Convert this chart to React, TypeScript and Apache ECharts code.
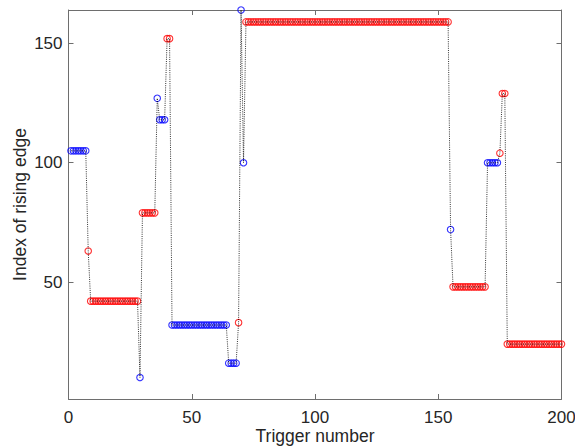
import React, { useEffect, useRef } from "react";
import * as echarts from "echarts";

// Data: runs of constant "index of rising edge"
const runValue = [105, 63, 42, 10, 79, 127, 118, 152, 32, 16, 33, 164, 100, 159, 72, 48, 100, 104, 129, 24];
const runLength = [7, 1, 20, 1, 6, 1, 3, 2, 23, 4, 1, 1, 1, 83, 1, 14, 5, 1, 2, 23];
const runColor = ["b", "r", "r", "b", "r", "b", "b", "r", "b", "b", "r", "b", "b", "r", "b", "r", "b", "r", "r", "r"];

const xTicks = [0, 50, 100, 150, 200];
const yTicks = [50, 100, 150];
const xName = "Trigger number";
const yName = "Index of rising edge";

const FONT = "'Liberation Sans', Arial, Helvetica, sans-serif";
const AXIS_COLOR = "#6e6e6e";

export default function App() {
  const ref = useRef<HTMLDivElement>(null);

  useEffect(() => {
    if (!ref.current) return;
    const chart = echarts.init(ref.current, undefined, { renderer: "svg" });

    const points: { x: number; y: number; c: string }[] = [];
    let trig = 1;
    runValue.forEach((v, k) => {
      for (let j = 0; j < runLength[k]; j++) {
        points.push({ x: trig, y: v, c: runColor[k] });
        trig++;
      }
    });

    const linePts = points.map((p) => [p.x, p.y]);
    const bluePts = points.filter((p) => p.c === "b").map((p) => [p.x, p.y]);
    const redPts = points.filter((p) => p.c === "r").map((p) => [p.x, p.y]);

    const axisCommon = {
      axisLine: { show: true, onZero: false, lineStyle: { color: AXIS_COLOR, width: 1 } },
      axisTick: { show: true, inside: true, length: 5, lineStyle: { color: AXIS_COLOR, width: 1 } },
      splitLine: { show: false },
    };

    chart.setOption({
      animation: false,
      backgroundColor: "#ffffff",
      grid: {
        left: 68.5,
        right: 13.5,
        top: 10,
        bottom: 49,
        containLabel: false,
        outerBoundsMode: "none",
      },
      xAxis: [
        {
          type: "value",
          min: 0,
          max: 200,
          interval: 50,
          position: "bottom",
          name: xName,
          nameLocation: "middle",
          nameGap: 28,
          nameMoveOverlap: false,
          nameTextStyle: { fontFamily: FONT, fontSize: 17.5, lineHeight: 17, color: "#262626" },
          ...axisCommon,
          axisLabel: {
            show: true,
            margin: 10,
            fontFamily: FONT,
            fontSize: 17,
            lineHeight: 17,
            color: "#262626",
            customValues: xTicks,
          },
        },
        {
          type: "value",
          min: 0,
          max: 200,
          interval: 50,
          position: "top",
          ...axisCommon,
          axisLabel: { show: false },
        },
      ],
      yAxis: [
        {
          type: "value",
          min: 1,
          max: 164,
          position: "left",
          name: yName,
          nameLocation: "middle",
          nameGap: 40,
          nameMoveOverlap: false,
          nameTextStyle: { fontFamily: FONT, fontSize: 17.5, color: "#262626" },
          ...axisCommon,
          axisTick: { ...axisCommon.axisTick, customValues: yTicks },
          axisLabel: {
            show: true,
            margin: 6,
            fontFamily: FONT,
            fontSize: 17,
            color: "#262626",
            customValues: yTicks,
          },
        },
        {
          type: "value",
          min: 1,
          max: 164,
          position: "right",
          ...axisCommon,
          axisTick: { ...axisCommon.axisTick, customValues: yTicks },
          axisLabel: { show: false },
        },
      ],
      series: [
        {
          type: "scatter",
          name: "blue",
          data: bluePts,
          symbol: "circle",
          symbolSize: 6.5,
          clip: false,
          itemStyle: { color: "rgba(255,255,255,0)", borderColor: "#0000ff", borderWidth: 1.1 },
          z: 2,
        },
        {
          type: "scatter",
          name: "red",
          data: redPts,
          symbol: "circle",
          symbolSize: 6.5,
          clip: false,
          itemStyle: { color: "rgba(255,255,255,0)", borderColor: "#ff0000", borderWidth: 1.1 },
          z: 2,
        },
        {
          type: "line",
          name: "edge",
          data: linePts,
          showSymbol: false,
          symbol: "none",
          clip: false,
          lineStyle: { color: "#000000", width: 0.8, type: [1, 1.2] },
          z: 3,
        },
      ],
    });

    return () => chart.dispose();
  }, []);

  return (
    <div
      ref={ref}
      style={{ position: "absolute", left: 0, top: 0, width: 575, height: 448 }}
    />
  );
}
